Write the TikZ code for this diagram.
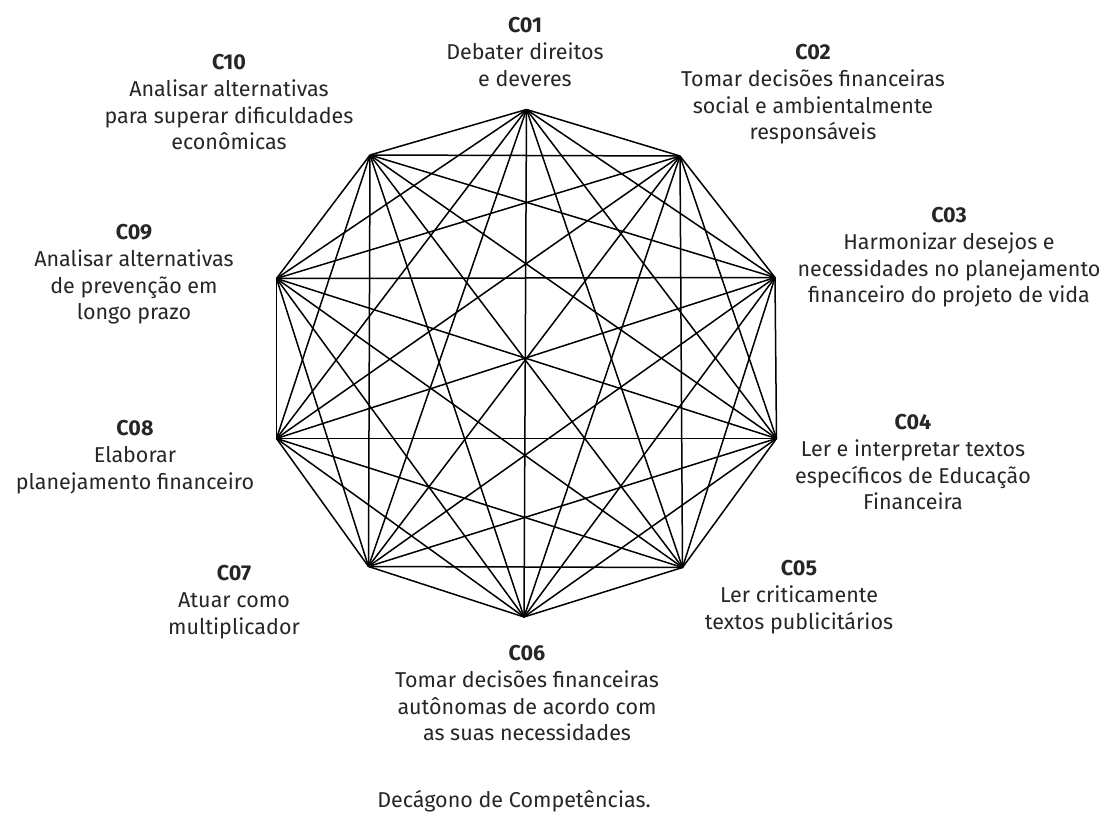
\documentclass[tikz,border=0pt]{standalone}
\usepackage{fontspec}
\setmainfont{Fira Sans}
\begin{document}
\begin{tikzpicture}[x=1pt,y=-1pt,
  lbl/.style={align=center,anchor=north,inner sep=0pt,text=black!85,font=\fontsize{21.5}{26.5}\selectfont},
  edge/.style={line width=1.5pt,black}]
\useasboundingbox (0,0) rectangle (1102,818);
\coordinate (v1) at (526.5,109.5);
\coordinate (v2) at (680,156);
\coordinate (v3) at (775,277.5);
\coordinate (v4) at (776.5,438.5);
\coordinate (v5) at (682.5,567.5);
\coordinate (v6) at (524,617);
\coordinate (v7) at (368.5,566.5);
\coordinate (v8) at (276.5,438.5);
\coordinate (v9) at (276.5,278.5);
\coordinate (v10) at (370,155);
\foreach \i in {1,...,10}{
  \foreach \j in {1,...,10}{
    \ifnum\i<\j \draw[edge] (v\i) -- (v\j); \fi
  }
}
\node[lbl] (c01) at (525,17) {\textbf{C01}\\[1pt]Debater direitos\\e deveres};
\node[lbl] (c02) at (813,44) {\textbf{C02}\\[1pt]Tomar decisões financeiras\\social e ambientalmente\\responsáveis};
\node[lbl] (c03) at (949,207) {\textbf{C03}\\[1pt]Harmonizar desejos e\\necessidades no planejamento\\financeiro do projeto de vida};
\node[lbl] (c04) at (913,414) {\textbf{C04}\\[1pt]Ler e interpretar textos\\específicos de Educação\\Financeira};
\node[lbl] (c05) at (799,560) {\textbf{C05}\\[1pt]Ler criticamente\\textos publicitários};
\node[lbl] (c06) at (527,645) {\textbf{C06}\\[1pt]Tomar decisões financeiras\\autônomas de acordo com\\as suas necessidades};
\node[lbl] (c07) at (234,565) {\textbf{C07}\\[1pt]Atuar como\\multiplicador};
\node[lbl] (c08) at (135,420) {\textbf{C08}\\[1pt]Elaborar\\planejamento financeiro};
\node[lbl] (c09) at (134,224) {\textbf{C09}\\[1pt]Analisar alternativas\\de prevenção em\\longo prazo};
\node[lbl] (c10) at (229,54) {\textbf{C10}\\[1pt]Analisar alternativas\\para superar dificuldades\\econômicas};
\node[lbl,anchor=center] (cap) at (514,801) {Decágono de Competências.};
\end{tikzpicture}
\end{document}
